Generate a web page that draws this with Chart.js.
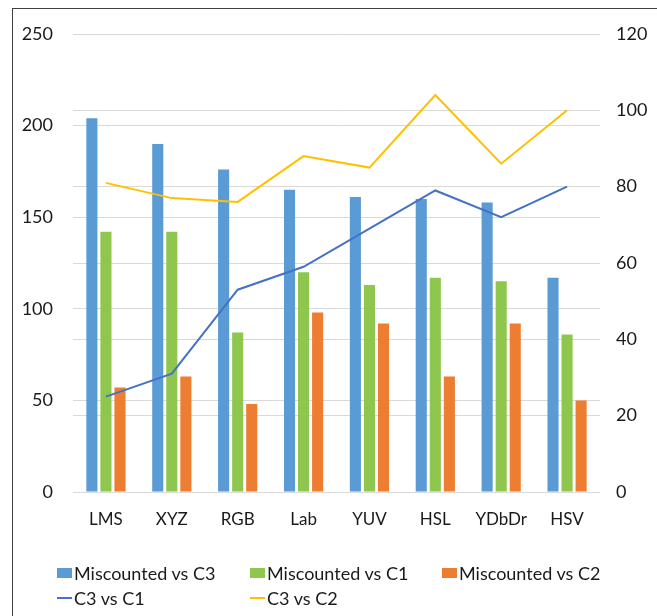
<!DOCTYPE html>
<html>
<head>
<meta charset="utf-8">
<script src="https://cdn.jsdelivr.net/npm/chart.js@4"></script>
<style>
  html, body { margin: 0; padding: 0; background: #fff; }
  #wrap { position: relative; width: 657px; height: 616px; overflow: hidden; font-family: Lato, "Open Sans", sans-serif; }
  #frame { position: absolute; left: 12px; top: 8px; width: 700px; height: 700px; border-left: 1px solid #404040; border-top: 1px solid #404040; box-sizing: border-box; }
  canvas { position: absolute; left: 0; top: 0; }
  #legend { position: absolute; left: 0; top: 0; width: 657px; height: 616px; pointer-events: none; }
  .item { position: absolute; display: flex; align-items: center; font-size: 18px; color: #1a1a1a; white-space: nowrap; }
  .box { width: 15px; height: 10px; margin-right: 2px; }
  .ln { width: 15px; height: 2px; margin-right: 2px; }
</style>
</head>
<body>
<div id="wrap">
  <div id="frame"></div>
  <canvas id="c" width="657" height="616"></canvas>
  <div id="legend"></div>
</div>
<script>
// Colour spaces compared
const categories = ['LMS', 'XYZ', 'RGB', 'Lab', 'YUV', 'HSL', 'YDbDr', 'HSV'];

// Bar series (left axis)
const miscountedC3 = [204, 190, 176, 165, 161, 160, 158, 117];
const miscountedC1 = [142, 142, 87, 120, 113, 117, 115, 86];
const miscountedC2 = [57, 63, 48, 98, 92, 63, 92, 50];

// Line series (right axis)
const c3VsC1 = [25, 31, 53, 59, 69, 79, 72, 80];
const c3VsC2 = [81, 77, 76, 88, 85, 104, 86, 100];

// Axis tick values
const leftTicks = [0, 50, 100, 150, 200, 250];
const rightTicks = [0, 20, 40, 60, 80, 100, 120];

const FONT = 'Lato, "Open Sans", sans-serif';
const GRID = '#d9d9d9';
const TEXT = '#1a1a1a';

const barDs = (label, data, color) => ({
  type: 'bar', label, data, backgroundColor: color, yAxisID: 'y', order: 2,
  categoryPercentage: 0.64, barPercentage: 0.79
});
const lineDs = (label, data, color) => ({
  type: 'line', label, data, borderColor: color, backgroundColor: color,
  borderWidth: 2, pointRadius: 0, tension: 0, yAxisID: 'y1', order: 1
});

const chart = new Chart(document.getElementById('c'), {
  data: {
    labels: categories,
    datasets: [
      barDs('Miscounted vs C3', miscountedC3, '#5b9bd5'),
      barDs('Miscounted vs C1', miscountedC1, '#8fc74e'),
      barDs('Miscounted vs C2', miscountedC2, '#ed7d31'),
      lineDs('C3 vs C1', c3VsC1, '#4472c4'),
      lineDs('C3 vs C2', c3VsC2, '#ffc000')
    ]
  },
  options: {
    responsive: false,
    animation: false,
    layout: { padding: { top: 34, left: 0, right: 0, bottom: 0 } },
    plugins: { legend: { display: false }, tooltip: { enabled: false } },
    scales: {
      x: {
        grid: { display: false, drawTicks: false },
        border: { display: false },
        ticks: { color: TEXT, font: { family: FONT, size: 17 }, padding: 17, maxRotation: 0 },
        afterFit: s => { s.height = 124; }
      },
      y: {
        position: 'left', min: 0, max: 250,
        afterBuildTicks: s => { s.ticks = leftTicks.map(v => ({ value: v })); },
        grid: { color: GRID, lineWidth: 1, drawTicks: false },
        border: { display: false },
        ticks: { color: TEXT, font: { family: FONT, size: 18 }, padding: 20 },
        afterFit: s => { s.width = 73; }
      },
      y1: {
        position: 'right', min: 0, max: 120,
        afterBuildTicks: s => { s.ticks = rightTicks.map(v => ({ value: v })); },
        grid: { color: GRID, lineWidth: 1, drawTicks: false },
        border: { display: false },
        ticks: { color: TEXT, font: { family: FONT, size: 18 }, padding: 16 },
        afterFit: s => { s.width = 57; }
      }
    }
  }
});

// Legend laid out in fixed columns beneath the plot
const legendPos = [[57, 573], [250, 573], [442, 573], [57, 598], [250, 598]];
const legend = document.getElementById('legend');
chart.data.datasets.forEach((ds, i) => {
  const el = document.createElement('div');
  el.className = 'item';
  el.style.left = legendPos[i][0] + 'px';
  el.style.top = (legendPos[i][1] - 11) + 'px';
  el.style.height = '22px';
  const mark = document.createElement('span');
  mark.className = ds.type === 'bar' ? 'box' : 'ln';
  mark.style.background = ds.type === 'bar' ? ds.backgroundColor : ds.borderColor;
  el.appendChild(mark);
  el.appendChild(document.createTextNode(ds.label));
  legend.appendChild(el);
});
</script>
</body>
</html>
